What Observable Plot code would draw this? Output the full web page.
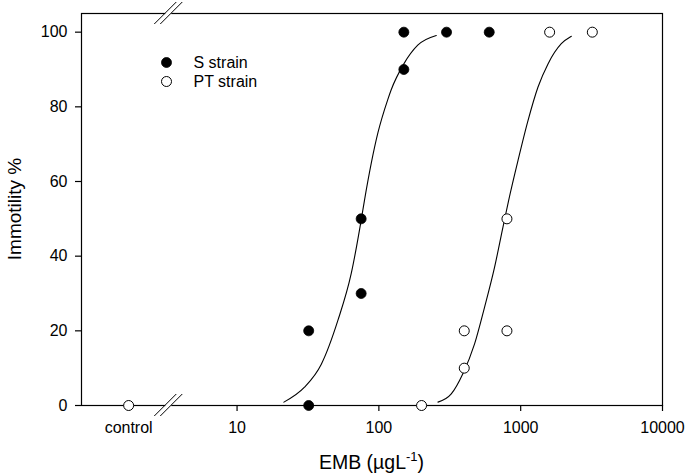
<!DOCTYPE html>
<html>
<head>
<meta charset="utf-8">
<script src="https://cdn.jsdelivr.net/npm/d3@7"></script>
<script src="https://cdn.jsdelivr.net/npm/@observablehq/plot@0.6"></script>
<style>
  html, body { margin: 0; padding: 0; background: white; }
  #chart { width: 685px; height: 474px; }
</style>
</head>
<body>
<div id="chart"></div>
<script>
// ---- data ----
const controlLabel = "control";
const controlDose = 1.72;          // pseudo-dose where "control" sits on the broken log axis
const breakDose = 3.3;             // where the axis break is drawn
const xTickValues = [10, 100, 1000, 10000];
const xTickLabels = ["10", "100", "1000", "10000"];
const yTicks = [0, 20, 40, 60, 80, 100];
const legendLabels = ["S strain", "PT strain"];

// S strain (filled circles)
const sDose = [32, 32, 75, 75, 150, 150, 300, 600];
const sImm  = [0, 20, 30, 50, 90, 100, 100, 100];
// PT strain (open circles)
const ptDose = [200, 400, 400, 800, 800, 1600, 3200];
const ptImm  = [0, 10, 20, 20, 50, 100, 100];
// control
const controlImm = [0];

// fitted curves, points
const sCurveDose = [21.4, 29.9, 39.2, 51.4, 63.8, 75, 79.1, 98.4, 115.7, 122, 150, 188, 254];
const sCurveImm  = [0.9, 4.9, 11.0, 22.8, 35.3, 49.6, 54.9, 73.0, 82.0, 84.5, 91.5, 96.5, 99.1];
const ptCurveDose = [261, 324, 391, 473, 556, 654, 750, 822, 957, 1126, 1325, 1558, 1934, 2276];
const ptCurveImm  = [0.9, 3.1, 8.5, 16.5, 26.3, 37.0, 47.8, 54.9, 65.6, 76.3, 85.3, 91.5, 96.9, 98.9];

// ---- build tables ----
const sPts = sDose.map((d, i) => ({dose: d, imm: sImm[i]}));
const ptPts = ptDose.map((d, i) => ({dose: d, imm: ptImm[i]}));
const ctrlPts = controlImm.map(v => ({dose: controlDose, imm: v}));
const sCurve = sCurveDose.map((d, i) => ({dose: d, imm: sCurveImm[i]}));
const ptCurve = ptCurveDose.map((d, i) => ({dose: d, imm: ptCurveImm[i]}));

const FONT = "'Liberation Sans', Arial, sans-serif";

const plot = Plot.plot({
  width: 685,
  height: 474,
  marginLeft: 81,
  marginRight: 23,
  marginTop: 13,
  marginBottom: 69,
  style: {fontFamily: FONT, fontSize: "16px", color: "black", background: "white", overflow: "visible"},
  x: {type: "log", domain: [0.8, 10000]},
  y: {domain: [0, 105]},
  marks: [
    Plot.frame({stroke: "black", strokeWidth: 1.2}),
    Plot.axisY(yTicks, {tickSize: 6, tickPadding: 8, label: null, fontSize: 16, strokeWidth: 1.2,
      tickFormat: d => String(d)}),
    Plot.axisX(xTickValues, {tickSize: 6, tickPadding: 10, label: null, fontSize: 16, strokeWidth: 1.2,
      tickFormat: d => xTickLabels[xTickValues.indexOf(d)]}),
    Plot.axisX([controlDose], {tickSize: 0, tickPadding: 16, label: null, fontSize: 16,
      tickFormat: () => controlLabel}),
    Plot.line(sCurve, {x: "dose", y: "imm", stroke: "black", strokeWidth: 1.1, curve: "monotone-x"}),
    Plot.line(ptCurve, {x: "dose", y: "imm", stroke: "black", strokeWidth: 1.1, curve: "monotone-x"}),
    Plot.dot(sPts, {x: "dose", y: "imm", r: 5, fill: "black", stroke: "black", strokeWidth: 0.8}),
    Plot.dot(ptPts, {x: "dose", y: "imm", r: 5, fill: "white", stroke: "black", strokeWidth: 1}),
    Plot.dot(ctrlPts, {x: "dose", y: "imm", r: 5, fill: "white", stroke: "black", strokeWidth: 1}),
    // legend
    Plot.dot([legendLabels[0]], {frameAnchor: "top-left", dx: 85, dy: 49, r: 5, fill: "black", stroke: "black", strokeWidth: 0.8}),
    Plot.dot([legendLabels[1]], {frameAnchor: "top-left", dx: 85, dy: 68, r: 5, fill: "white", stroke: "black", strokeWidth: 1}),
    Plot.text([legendLabels[0]], {frameAnchor: "top-left", lineAnchor: "middle", dx: 112, dy: 49, text: d => d, textAnchor: "start", fontSize: 16, fill: "black"}),
    Plot.text([legendLabels[1]], {frameAnchor: "top-left", lineAnchor: "middle", dx: 112, dy: 68, text: d => d, textAnchor: "start", fontSize: 16, fill: "black"})
  ]
});

document.getElementById("chart").appendChild(plot);

// ---- axis break marks, titles ----
const svg = d3.select(plot);
const xs = plot.scale("x"), ys = plot.scale("y");
const bx = xs.apply(breakDose);
const yBottom = ys.apply(0), yTop = ys.apply(105);
for (const yy of [yBottom, yTop]) {
  const g = svg.append("g");
  g.append("rect").attr("x", bx - 3).attr("y", yy - 2).attr("width", 6).attr("height", 4).attr("fill", "white");
  for (const off of [-3, 3]) {
    g.append("line")
      .attr("x1", bx + off - 11).attr("y1", yy + 11)
      .attr("x2", bx + off + 11).attr("y2", yy - 11)
      .attr("stroke", "black").attr("stroke-width", 1);
  }
}

const xt = svg.append("text")
  .attr("x", (xs.range[0] + xs.range[1]) / 2)
  .attr("y", 469)
  .attr("text-anchor", "middle")
  .attr("font-family", FONT)
  .attr("font-size", 19.5)
  .attr("fill", "black");
xt.append("tspan").text("EMB (µgL");
xt.append("tspan").attr("dy", -8).attr("font-size", 13).text("-1");
xt.append("tspan").attr("dy", 8).text(")");

svg.append("text")
  .attr("transform", `translate(21,${(yTop + yBottom) / 2}) rotate(-90)`)
  .attr("text-anchor", "middle")
  .attr("font-family", FONT)
  .attr("font-size", 19)
  .attr("fill", "black")
  .text("Immotility %");
</script>
</body>
</html>
